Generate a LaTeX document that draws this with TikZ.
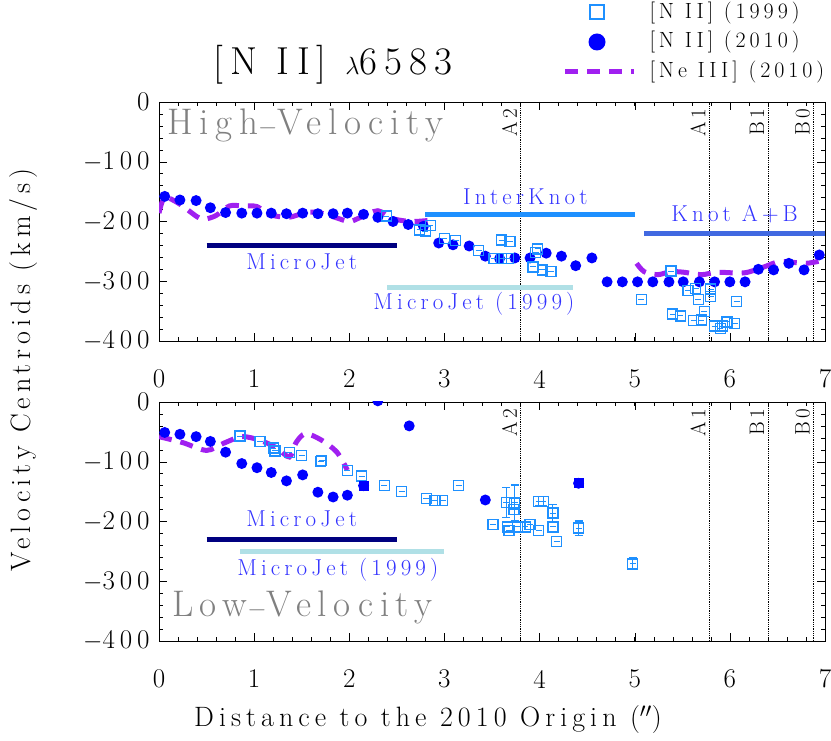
\documentclass[tikz,border=0pt]{standalone}
\usepackage{fontspec}
\setmainfont{Latin Modern Roman}[LetterSpace=18]
\begin{document}
\begin{tikzpicture}[x=1pt,y=1pt]
\definecolor{navyc}{RGB}{0,0,128}
\definecolor{dodger}{RGB}{30,144,255}
\definecolor{royal}{RGB}{65,105,225}
\definecolor{pale}{RGB}{176,224,230}
\definecolor{purp}{RGB}{160,32,240}
\definecolor{lblue}{RGB}{50,50,255}
\definecolor{dotblue}{RGB}{0,0,255}
\tikzset{
 data/.style={shift={(159,#1)},x=95.14pt,y=0.5975pt},
 pdot/.style={circle,fill=dotblue,inner sep=0pt,minimum size=11pt},
 sqm/.style={draw=dodger,line width=1.3pt},
 nedash/.style={purp,line width=5pt,dash pattern=on 13pt off 9pt},
 bar/.style={line width=5pt},
 lab/.style={text=lblue,font=\fontsize{23}{23}\selectfont},
 big/.style={text=gray,font=\fontsize{37}{37}\selectfont},
 tick/.style={font=\fontsize{27}{27}\selectfont},
 vlab/.style={rotate=90,anchor=east,font=\fontsize{21}{21}\selectfont},
 vline/.style={densely dotted,line width=0.8pt},
 legt/.style={anchor=west,font=\fontsize{22}{22}\selectfont}
}
\newcommand\sqpt[2]{\draw[sqm] (#1,#2) ++(-5pt,-5pt) rectangle ++(10pt,10pt); \draw[dodger,line width=1pt] (#1,#2) ++(-3pt,0) -- ++(6pt,0);}
\newcommand\frameaxes{%
 \draw[line width=0.8pt] (0,-400) rectangle (7,0);
 \foreach \t in {0,...,7}{\draw (\t,-400) -- ++(0,8pt); \draw (\t,0) -- ++(0,-8pt);}
 \foreach \t in {1,...,34}{\draw ({\t*0.2},-400) -- ++(0,4pt); \draw ({\t*0.2},0) -- ++(0,-4pt);}
 \foreach \t in {0,-100,-200,-300,-400}{\draw (0,\t) -- ++(8pt,0); \draw (7,\t) -- ++(-8pt,0);}
 \foreach \t in {1,...,19}{\draw (0,{-\t*20}) -- ++(4pt,0); \draw (7,{-\t*20}) -- ++(-4pt,0);}
 \node[tick,anchor=east] at ([xshift=-6pt]0,0) {0};
 \foreach \t in {100,200,300,400}{\node[tick,anchor=east] at ([xshift=-6pt]0,-\t) {$-$\t};}
 \foreach \t in {0,...,7}{\node[tick] at ([yshift=-38pt]\t,-400) {\t};}
 \foreach \d/\n in {3.8/A2,5.78/A1,6.4/B1,6.88/B0}{\draw[vline] (\d,-400) -- (\d,0); \node[vlab] at ([xshift=-11pt,yshift=-3pt]\d,0) {\n};}
}
\useasboundingbox (0,0) rectangle (831,740);
% title and legend
\node[font=\fontsize{39}{39}\selectfont] at (333,675) {[N II] $\lambda$6583};
\draw[dodger,line width=1.3pt] (590,721) rectangle (604,735);
\node[legt] at (646,727) {[N II] (1999)};
\fill[dotblue] (597,698) circle (8.5pt);
\node[legt] at (646,698) {[N II] (2010)};
\draw[nedash] (565,668) -- (634,668);
\node[legt] at (646,668) {[Ne III] (2010)};
% axis labels
\node[rotate=90,font=\fontsize{28}{28}\selectfont] at (24,370) {Velocity Centroids (km/s)};
\node[font=\fontsize{28}{28}\selectfont] at (428,20) {Distance to the 2010 Origin ($''$)};
% ---------- top panel
\begin{scope}[data=638]
\frameaxes
\node[big,anchor=west] at (0.05,-40) {High$-$Velocity};
\begin{scope}
\clip (0,-400) rectangle (7,0);
\draw[nedash] plot[smooth] coordinates {(0,-186) (0.06,-160) (0.21,-170) (0.40,-192) (0.48,-196) (0.60,-190) (0.74,-174) (0.88,-174) (1.03,-175) (1.15,-188) (1.36,-193) (1.54,-185) (1.68,-185) (1.85,-193) (2.0,-200) (2.12,-193) (2.3,-182) (2.45,-195) (2.65,-200) (2.85,-198)};
\draw[nedash] plot[smooth] coordinates {(5.02,-270) (5.1,-284) (5.24,-289) (5.38,-284) (5.52,-285) (5.7,-289) (5.87,-285) (6.15,-286) (6.36,-276) (6.53,-267) (6.8,-270) (7.0,-264)};
\draw[bar,navyc] (0.5,-240) -- (2.5,-240);
\draw[bar,dodger] (2.8,-189) -- (5.0,-189);
\draw[bar,royal] (5.1,-220) -- (7,-220);
\draw[bar,pale] (2.4,-311) -- (4.35,-311);
\foreach \x/\y in {0.06/-158,0.22/-164,0.39/-165,0.54/-177,0.70/-185,0.87/-186,1.03/-186,1.18/-186,1.34/-187,1.51/-186,1.67/-187,1.83/-187,1.98/-186,2.15/-188,2.30/-193,2.46/-200,2.62/-205,2.78/-208,
2.94/-236,3.09/-239,3.26/-241,3.43/-258,3.58/-262,3.74/-261,3.90/-261,4.07/-253,4.23/-258,4.38/-274,4.55/-261,4.71/-301,4.87/-301,5.03/-301,5.19/-301,5.36/-301,5.51/-301,5.68/-301,5.84/-301,6.0/-301,6.16/-301,6.30/-280,6.46/-281,6.62/-270,6.78/-281,6.94/-256}
 {\node[pdot] at (\x,\y) {};}
\foreach \x/\y in {2.39/-191,2.74/-214,2.8/-216,2.85/-207,3.0/-228,3.12/-232,3.36/-248,3.52/-262,3.6/-231,3.69/-233,3.6/-262,3.67/-262,3.93/-276,3.98/-246,3.96/-252,4.03/-281,4.12/-284,
5.07/-331,5.38/-283,5.40/-355,5.48/-358,5.56/-315,5.64/-312,5.62/-366,5.70/-365,5.67/-331,5.73/-351,5.80/-313,5.8/-326,5.84/-375,5.92/-375,5.97/-368,6.05/-371,6.07/-334,5.9/-379}
 {\sqpt{\x}{\y}}
\end{scope}
\node[lab] at (1.5,-268) {MicroJet};
\node[lab] at (3.85,-158) {InterKnot};
\node[lab] at (6.05,-188) {Knot A+B};
\node[lab] at (3.31,-337) {MicroJet (1999)};
\end{scope}
% ---------- bottom panel
\begin{scope}[data=338]
\frameaxes
\node[big,anchor=west] at (0.1,-343) {Low$-$Velocity};
\begin{scope}
\clip (0,-400) rectangle (7,0);
\draw[nedash] plot[smooth] coordinates {(0,-58) (0.25,-68) (0.5,-81) (0.68,-69) (0.87,-58) (1.06,-64) (1.24,-77) (1.37,-92) (1.44,-68) (1.54,-53) (1.71,-64) (1.87,-84) (1.98,-114)};
\draw[bar,navyc] (0.5,-230) -- (2.5,-230);
\draw[bar,pale] (0.85,-251) -- (3.0,-251);
\foreach \x/\y in {0.06/-51,0.22/-54,0.39/-58,0.54/-66,0.70/-84,0.87/-103,1.03/-110,1.18/-118,1.34/-132,1.51/-122,1.67/-151,1.83/-159,1.98/-156,2.15/-140,2.3/2,2.63/-40,3.43/-164,4.41/-136}
 {\node[pdot] at (\x,\y) {};}
\foreach \x/\y/\e in {3.65/-168/25,3.74/-169/30,3.73/-180/0,4.14/-186/15,3.99/-166/8,4.04/-166/8,4.41/-211/12,4.98/-271/10}
 {\draw[dodger,line width=1.2pt] (\x,\y-\e) -- (\x,\y+\e) (\x,\y-\e) ++(-4pt,0) -- ++(8pt,0) (\x,\y+\e) ++(-4pt,0) -- ++(8pt,0);}
\foreach \x/\y in {0.85/-57,1.06/-66,1.20/-77,1.22/-82,1.37/-84,1.50/-90,1.70/-100,1.71/-98,1.98/-115,2.13/-124,2.37/-140,2.55/-150,2.81/-161,2.90/-165,2.98/-165,3.15/-140,3.51/-205,3.65/-168,3.74/-169,3.73/-180,3.66/-209,3.68/-215,3.77/-209,3.85/-209,3.9/-205,3.99/-215,3.99/-166,4.04/-166,4.14/-186,4.14/-209,4.18/-234,4.41/-211,4.98/-271}
 {\sqpt{\x}{\y}}
\fill[dotblue] (2.15,-140) ++(-5pt,-5pt) rectangle ++(10pt,10pt);
\fill[dotblue] (4.41,-136) ++(-5pt,-5pt) rectangle ++(10pt,10pt);
\end{scope}
\node[lab] at (1.5,-195) {MicroJet};
\node[lab] at (1.88,-280) {MicroJet (1999)};
\end{scope}
\end{tikzpicture}
\end{document}
